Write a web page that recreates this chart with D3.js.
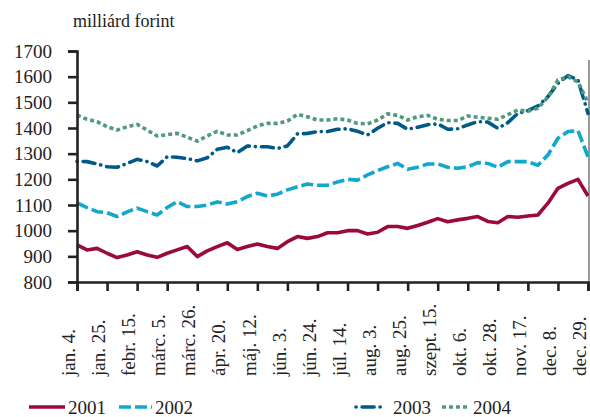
<!DOCTYPE html>
<html>
<head>
<meta charset="utf-8">
<script src="https://cdn.jsdelivr.net/npm/d3@7"></script>
<style>
  body { margin: 0; background: #fff; }
  text { font-family: "Liberation Serif", "Times New Roman", serif; fill: #222; }
</style>
</head>
<body>
<script>
var svgWidth = 590;
var svgHeight = 417;

// weekly categories, labels every 3rd week
var tickLabels = ["jan. 4.", "jan. 25.", "febr. 15.", "márc. 5.", "márc. 26.", "ápr. 20.",
  "máj. 12.", "jún. 3.", "jún. 24.", "júl. 14.", "aug. 3.", "aug. 25.", "szept. 15.",
  "okt. 6.", "okt. 28.", "nov. 17.", "dec. 8.", "dec. 29."];
var yTicks = [800, 900, 1000, 1100, 1200, 1300, 1400, 1500, 1600, 1700];

var s2001 = [945, 925, 931, 912, 895, 905, 918, 905, 896, 912, 925, 938, 899, 921, 938, 953,
  927, 938, 948, 938, 931, 957, 977, 970, 977, 992, 992, 1000, 1000, 987, 994, 1016, 1016,
  1009, 1020, 1033, 1047, 1035, 1042, 1048, 1055, 1036, 1031, 1055, 1052, 1057, 1061, 1107,
  1165, 1184, 1200, 1135];
var s2002 = [1108, 1090, 1074, 1070, 1055, 1073, 1088, 1074, 1061, 1090, 1113, 1094, 1094,
  1100, 1112, 1104, 1113, 1133, 1146, 1135, 1142, 1159, 1171, 1182, 1177, 1177, 1190, 1200,
  1197, 1217, 1234, 1249, 1262, 1239, 1247, 1260, 1260, 1247, 1243, 1249, 1265, 1262, 1247,
  1269, 1269, 1269, 1255, 1295, 1360, 1386, 1390, 1288];
var s2003 = [1270, 1269, 1260, 1249, 1247, 1262, 1278, 1269, 1252, 1288, 1286, 1281, 1272,
  1284, 1317, 1325, 1304, 1330, 1327, 1327, 1320, 1330, 1377, 1379, 1386, 1386, 1395, 1397,
  1387, 1373, 1399, 1421, 1418, 1395, 1403, 1413, 1416, 1395, 1397, 1412, 1425, 1423, 1399,
  1421, 1457, 1468, 1486, 1522, 1574, 1604, 1587, 1457];
var s2004 = [1450, 1434, 1425, 1405, 1392, 1405, 1414, 1392, 1369, 1374, 1379, 1364, 1349,
  1369, 1387, 1373, 1373, 1390, 1408, 1418, 1418, 1427, 1453, 1444, 1431, 1431, 1436, 1431,
  1418, 1416, 1431, 1455, 1449, 1431, 1444, 1449, 1434, 1429, 1429, 1447, 1442, 1438, 1434,
  1452, 1470, 1465, 1477, 1520, 1587, 1600, 1579, 1500];

var seriesNames = ["2001", "2002", "2003", "2004"];
var seriesColors = ["#9c0a3b", "#10a8cc", "#005a87", "#4f9a7c"];
var seriesDash = ["none", "12,4", "0.1,6,12,6", "4,3"];

var allSeries = [s2001, s2002, s2003, s2004];

var plot = { left: 77, right: 588, top: 51, bottom: 282 };

var svg = d3.select("body").append("svg")
  .attr("width", svgWidth)
  .attr("height", svgHeight);

var x = d3.scaleLinear()
  .domain([0, s2001.length - 1])
  .range([plot.left, plot.right]);

var y = d3.scaleLinear()
  .domain([800, 1700])
  .range([plot.bottom, plot.top]);

// unit label
svg.append("text")
  .attr("x", 73)
  .attr("y", 27)
  .style("font-size", "18px")
  .text("milliárd forint");

// right border
svg.append("line")
  .attr("x1", 589).attr("x2", 589)
  .attr("y1", 60).attr("y2", plot.bottom)
  .attr("stroke", "#555").attr("stroke-width", 1.2);

// lines
var line = d3.line()
  .x((d, i) => x(i))
  .y(d => y(d));

allSeries.forEach(function(s, k) {
  svg.append("path")
    .datum(s)
    .attr("fill", "none")
    .attr("stroke", seriesColors[k])
    .attr("stroke-width", 3.6)
    .attr("stroke-dasharray", seriesDash[k])
    .attr("stroke-linecap", k == 2 ? "round" : "butt")
    .attr("stroke-linejoin", "round")
    .attr("d", line);
});

// y axis
var yAxis = d3.axisLeft(y)
  .tickValues(yTicks)
  .tickSize(9)
  .tickPadding(16)
  .tickFormat(d3.format("d"));

var yg = svg.append("g")
  .attr("transform", `translate(${plot.left},0)`)
  .call(yAxis);
yg.select(".domain").attr("stroke", "#222").attr("stroke-width", 2.6);
yg.selectAll(".tick line").attr("stroke", "#222").attr("stroke-width", 2.6);
yg.selectAll(".tick text")
  .style("font-size", "19px")
  .style("font-family", "Liberation Serif, serif")
  .attr("fill", "#222");

// x axis
var labelIdx = tickLabels.map((d, i) => i * 3);
var xAxis = d3.axisBottom(x)
  .tickValues(labelIdx)
  .tickSize(9)
  .tickFormat((d, i) => tickLabels[i]);

var xg = svg.append("g")
  .attr("transform", `translate(0,${plot.bottom})`)
  .call(xAxis);
xg.select(".domain").attr("stroke", "#222").attr("stroke-width", 2.6);
xg.selectAll(".tick line").attr("stroke", "#222").attr("stroke-width", 2.6);
xg.selectAll(".tick text")
  .style("font-size", "19px")
  .style("font-family", "Liberation Serif, serif")
  .attr("fill", "#222")
  .attr("text-anchor", "start")
  .attr("transform", "translate(-9,94) rotate(-90)")
  .attr("x", 0)
  .attr("y", 0)
  .attr("dy", "0.35em");

// legend
var legendX = [29, 119, 356, 442];
var legendW = [36, 33, 27, 28];
var legendY = 407;
var legend = svg.append("g");
seriesNames.forEach(function(name, k) {
  legend.append("line")
    .attr("x1", legendX[k]).attr("x2", legendX[k] + legendW[k])
    .attr("y1", legendY).attr("y2", legendY)
    .attr("stroke", seriesColors[k])
    .attr("stroke-width", 3.6)
    .attr("stroke-dasharray", seriesDash[k])
    .attr("stroke-linecap", k == 2 ? "round" : "butt");
  legend.append("text")
    .attr("x", legendX[k] + legendW[k] + (k == 2 ? 10 : 3))
    .attr("y", legendY + 7)
    .style("font-size", "19px")
    .text(name);
});
</script>
</body>
</html>
